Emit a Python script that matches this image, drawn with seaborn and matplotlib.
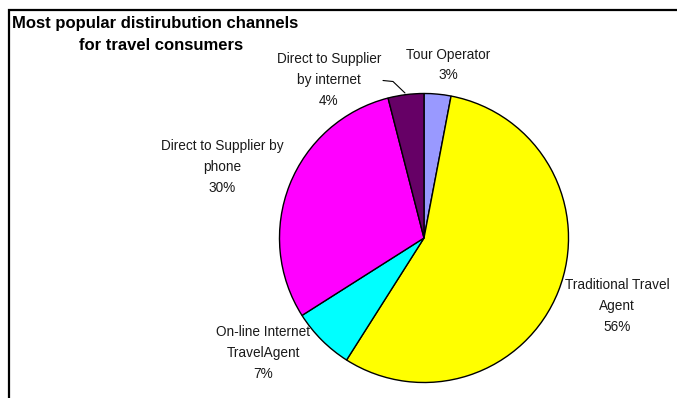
import matplotlib
matplotlib.use("Agg")
import matplotlib.pyplot as plt
import seaborn as sns

# Distribution channels, clockwise from the top of the pie
channels = [
    "Tour Operator",
    "Traditional Travel\nAgent",
    "On-line Internet\nTravelAgent",
    "Direct to Supplier by\nphone",
    "Direct to Supplier\nby internet",
]
shares = [3, 56, 7, 30, 4]
slice_colors = ["#9999FF", "#FFFF00", "#00FFFF", "#FF00FF", "#660066"]

title_lines = ["Most popular distirubution channels", "for travel consumers"]

sns.set_theme(style="white")
plt.rcParams["font.family"] = ["Liberation Sans", "DejaVu Sans"]

W, H = 677, 398
fig = plt.figure(figsize=(W / 100, H / 100), dpi=100)
ax = fig.add_axes([0, 0, 1, 1])

palette = sns.color_palette(slice_colors)
ax.pie(
    shares,
    colors=palette,
    startangle=90,
    counterclock=False,
    center=(424, H - 238),
    radius=144.5,
    wedgeprops=dict(edgecolor="black", linewidth=1.0),
)
ax.set_xlim(0, W)
ax.set_ylim(0, H)
ax.set_aspect("equal")
ax.axis("off")

# Slice labels (pixel positions measured from the top-left corner)
label_pos = [(448, 65), (617, 306), (263, 353), (222, 167), (329, 80)]
for name, share, (x, y) in zip(channels, shares, label_pos):
    ax.text(x, H - y, f"{name}\n{share}%", ha="center", va="center",
            multialignment="center", fontsize=9.8, color="#1a1a1a",
            linespacing=1.6)

# Leader line for the small internet slice
ax.plot([383, 393, 405], [H - 80.5, H - 81.5, H - 93], color="black", lw=0.8)

# Chart area border (top and left edges)
ax.plot([9, 9, W], [0, H - 9.5, H - 9.5], color="black", lw=1.6,
        solid_joinstyle="miter", clip_on=False)

# Title
ax.text(12, H - 28.3, title_lines[0], ha="left", va="baseline",
        fontsize=12, fontweight="bold", color="black")
ax.text(161.5, H - 50.5, title_lines[1], ha="center", va="baseline",
        fontsize=12, fontweight="bold", color="black")

fig.savefig("out.png", dpi=100, facecolor="white")
